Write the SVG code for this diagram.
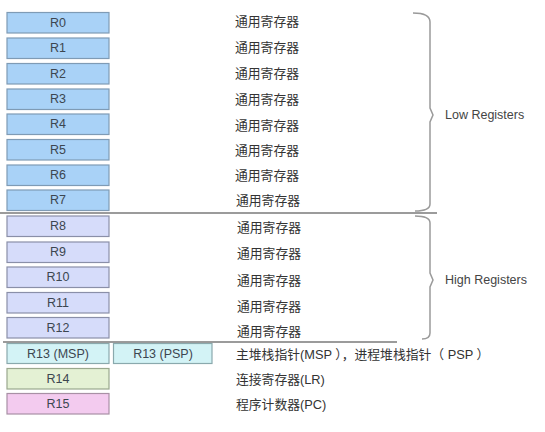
<svg xmlns="http://www.w3.org/2000/svg" width="545" height="432" viewBox="0 0 545 432">
<style>
.box{stroke:#8a9aa8;stroke-width:1.2}
.lo{fill:#a9d2f7;stroke:#7f9bb5}
.hi{fill:#d6dcfa;stroke:#8a8fa8}
.sp{fill:#d3f3f6;stroke:#8aa9ad}
.lr{fill:#e4f1d4;stroke:#9aa88e}
.pc{fill:#f3cbef;stroke:#a890a5}
.bl{font-family:"Liberation Sans",Arial,sans-serif;font-size:12.5px;fill:#3c4650;text-anchor:middle;dominant-baseline:central}
.cn{font-family:"Liberation Sans","Noto Sans CJK SC",sans-serif;font-size:12.8px;fill:#333;dominant-baseline:central}
.en{font-family:"Liberation Sans",Arial,sans-serif;font-size:12.5px;fill:#444;dominant-baseline:central}
.ln{stroke:#7a7a7a;stroke-width:1.3;fill:none}
.br{stroke:#9a9a9a;stroke-width:1.5;fill:none}
</style>
<rect width="545" height="432" fill="#ffffff"/>
<g id="R0"><rect class="box lo" x="7" y="12.5" width="102" height="20.5"/><text class="bl" x="58" y="22.5">R0</text><text class="cn" x="235" y="21">通用寄存器</text></g>
<g id="R1"><rect class="box lo" x="7" y="38" width="102" height="20.5"/><text class="bl" x="58" y="48">R1</text><text class="cn" x="235" y="47">通用寄存器</text></g>
<g id="R2"><rect class="box lo" x="7" y="63.5" width="102" height="20.5"/><text class="bl" x="58" y="73.5">R2</text><text class="cn" x="235" y="73">通用寄存器</text></g>
<g id="R3"><rect class="box lo" x="7" y="89" width="102" height="20.5"/><text class="bl" x="58" y="99">R3</text><text class="cn" x="235" y="99">通用寄存器</text></g>
<g id="R4"><rect class="box lo" x="7" y="114" width="102" height="20.5"/><text class="bl" x="58" y="124">R4</text><text class="cn" x="235" y="125">通用寄存器</text></g>
<g id="R5"><rect class="box lo" x="7" y="139.5" width="102" height="20.5"/><text class="bl" x="58" y="149.5">R5</text><text class="cn" x="235" y="150">通用寄存器</text></g>
<g id="R6"><rect class="box lo" x="7" y="165" width="102" height="20.5"/><text class="bl" x="58" y="175">R6</text><text class="cn" x="235" y="175">通用寄存器</text></g>
<g id="R7"><rect class="box lo" x="7" y="190" width="102" height="20.5"/><text class="bl" x="58" y="200">R7</text><text class="cn" x="236" y="200">通用寄存器</text></g>
<g id="R8"><rect class="box hi" x="7" y="216" width="102" height="20.5"/><text class="bl" x="58" y="226">R8</text><text class="cn" x="237" y="227">通用寄存器</text></g>
<g id="R9"><rect class="box hi" x="7" y="242" width="102" height="20.5"/><text class="bl" x="58" y="252">R9</text><text class="cn" x="237" y="253">通用寄存器</text></g>
<g id="R10"><rect class="box hi" x="7" y="267" width="102" height="20.5"/><text class="bl" x="58" y="277">R10</text><text class="cn" x="237" y="280">通用寄存器</text></g>
<g id="R11"><rect class="box hi" x="7" y="292.5" width="102" height="20.5"/><text class="bl" x="58" y="302.5">R11</text><text class="cn" x="237" y="306">通用寄存器</text></g>
<g id="R12"><rect class="box hi" x="7" y="317.5" width="102" height="20.5"/><text class="bl" x="58" y="327.5">R12</text><text class="cn" x="237" y="331">通用寄存器</text></g>
<g id="R13"><rect class="box sp" x="7" y="343.5" width="102" height="20"/><text class="bl" x="58" y="353.5">R13 (MSP)</text><rect class="box sp" x="113.5" y="343.5" width="98.5" height="20"/><text class="bl" x="163" y="353.5">R13 (PSP)</text><text class="cn" x="236" y="354">主堆栈指针(MSP ），进程堆栈指针（ PSP ）</text></g>
<g id="R14"><rect class="box lr" x="7" y="368.5" width="102" height="20.5"/><text class="bl" x="58" y="378.5">R14</text><text class="cn" x="236" y="379">连接寄存器(LR)</text></g>
<g id="R15"><rect class="box pc" x="7" y="393.5" width="102" height="20.5"/><text class="bl" x="58" y="403.5">R15</text><text class="cn" x="236" y="404">程序计数器(PC)</text></g>
<g id="connectors">
<line class="ln" x1="0" y1="213" x2="437" y2="213"/>
<line class="ln" x1="3" y1="342" x2="397" y2="342"/>
<path class="br" d="M413,13 Q430,13 430,22 L430,108 L433,115 L430,122 L430,204 Q430,211 415,211"/>
<path class="br" d="M415,216 Q430,216 430,223 L430,273 L433,280 L430,287 L430,333 Q430,339 422,339"/>
</g>
<g id="labels">
<text class="en" x="445" y="115">Low Registers</text>
<text class="en" x="445" y="280">High Registers</text>
</g>
</svg>
